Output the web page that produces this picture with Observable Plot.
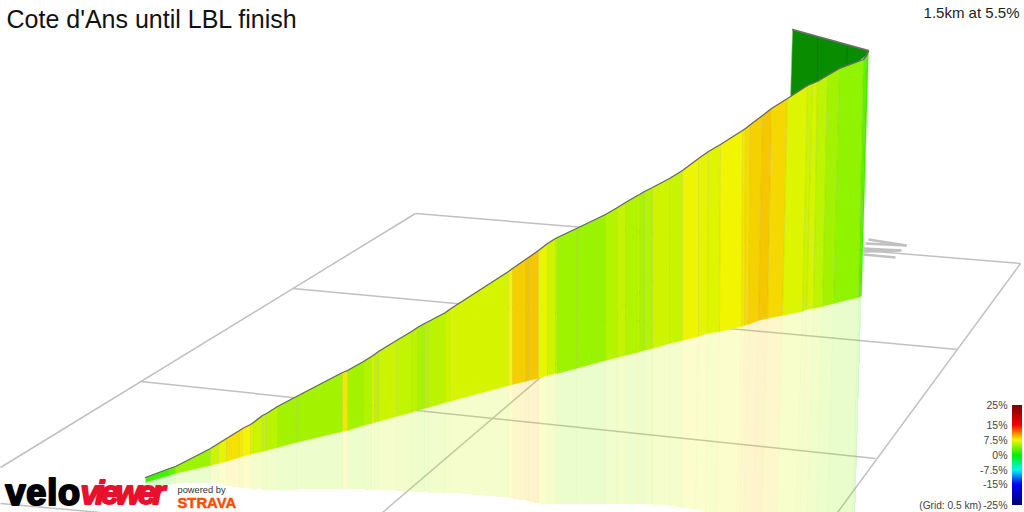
<!DOCTYPE html>
<html><head><meta charset="utf-8">
<script src="https://cdn.jsdelivr.net/npm/d3@7"></script>
<script src="https://cdn.jsdelivr.net/npm/@observablehq/plot@0.6"></script>
<style>
html,body{margin:0;padding:0;background:#fff;overflow:hidden}
.velo text{letter-spacing:.8px}
.viewer text{letter-spacing:-3.6px;font-style:italic}
</style></head><body><div id="chart"></div>
<script>
const wallTopX = [145,169,175,210,218,226,239,242,250,253,262,266,277,296,342,347,363,371,374,378,396,411,417,424,428,445,449,508,512,525,528,538,547,555,557,576,605,617,625,637,639,644,652,669,682,698,708,720,742,745,750,762,771,787,807,812,817,827,839,863,866,868];
const wallTopY = [477,468,466,448,443,438,430,428,424,422,415,413,406,396,372,370,361,356,354,351,340,331,327,323,321,312,309,271,268,259,257,250,243,238,237,228,214,207,202,195,194,191,187,178,170,158,151,144,130,128,124,115,108,98,85,83,81,75,68,59,55,51];
const wallBaseX = [145,169,175,210,218,226,239,242,250,253,262,266,277,296,342,347,363,371,374,378,396,411,417,424,428,445,449,508,512,525,528,538,547,555,557,576,605,617,625,637,639,644,652,669,682,698,707,719,741,744,748,758,767,782,802,806,813,822,833,858,860,861];
const wallBaseY = [482,475,473,465,463,461,457,456,454,453,451,450,447,442,431,430,425,423,422,421,416,412,410,408,407,402,401,385,384,381,380,378,375,373,373,368,360,357,355,352,351,350,348,343,340,336,333,331,326,325,324,320,318,315,311,309,308,306,303,297,296,295];
const floorX = [145,169,175,210,218,226,239,242,250,253,262,266,277,296,342,347,363,371,374,378,396,411,417,424,428,445,449,508,512,525,528,538,547,555,557,576,605,617,625,637,639,644,652,669,681,695,705,716,736,739,743,752,761,776,795,799,806,815,826,851,853,854];
const floorY = [486,484,483,482,483,485,487,487,488,488,489,489,489,489,488,488,489,489,489,489,490,491,491,491,492,492,492,497,498,500,501,503,503,503,503,503,503,503,503,503,503,503,504,505,507,509,511,513,516,517,518,520,522,525,528,529,530,531,533,537,538,538];
const grades = [2,3,4.8,6.2,7,8.1,7.8,7.5,6.5,6.2,5.8,5.7,5,5,8,5,5.4,6.5,5.7,6.2,5.9,5.7,5.2,5.5,5.7,6.3,6.5,7.4,8.7,9.1,8.9,7.1,6.3,5.5,4.8,4.7,5.5,6,5.4,5.8,5.2,5.5,6.3,6.1,7.3,7,6.8,7.4,8,8.3,8.6,8.9,8.4,6.8,6.2,6.5,5.8,5,4.4,3,2];

const backX = [790,792,868,866,857,840,817,790];
const backY = [96,29,50,55,62,68,81,96];
const backSeamTopX = [817,847];
const backSeamTopY = [37,45];
const backSeamBaseX = [817,846];
const backSeamBaseY = [81,64];

const gridX1 = [415,1020,415,292,140,0,700];
const gridY1 = [213,263,213,288,381,503,240];
const gridX2 = [1020,837,0,957,875,100,382];
const gridY2 = [263,512,467,349,458,512,512];
const blipX1 = [868,865,863,863,863];
const blipY1 = [239,243,248,251,254];
const blipX2 = [906,906,901,900,895];
const blipY2 = [245,245,250,250,257];

const scaleGrades = [-25,-15,-7.5,0,7.5,15,25];
const scaleColors = ["#00007a","#0000f5","#00f5f5","#00f000","#f5f500","#f50000","#7a0000"];
const legendLabels = ["25%","15%","7.5%","0%","-7.5%","-15%","-25%"];
const legendValues = [25,15,7.5,0,-7.5,-15,-25];
const legendY = [405,425,440,455,470,484,505];

const titleText = "Cote d'Ans until LBL finish";
const summaryText = "1.5km at 5.5%";
const gridText = "(Grid: 0.5 km)";

const wallPolys = grades.flatMap((g,i)=>[
  {s:i,g,x:wallTopX[i],y:wallTopY[i]},{s:i,g,x:wallTopX[i+1],y:wallTopY[i+1]},
  {s:i,g,x:wallBaseX[i+1],y:wallBaseY[i+1]},{s:i,g,x:wallBaseX[i],y:wallBaseY[i]}]);
const floorPolys = grades.flatMap((g,i)=>[
  {s:i,g,x:wallBaseX[i],y:wallBaseY[i]},{s:i,g,x:wallBaseX[i+1],y:wallBaseY[i+1]},
  {s:i,g,x:floorX[i+1],y:floorY[i+1]},{s:i,g,x:floorX[i],y:floorY[i]}]);
const seams = wallTopX.map((x,i)=>({x,i})).slice(1,-1);
const grid = gridX1.map((x,i)=>({x1:x,y1:gridY1[i],x2:gridX2[i],y2:gridY2[i]}));
const blips = blipX1.map((x,i)=>({x1:x,y1:blipY1[i],x2:blipX2[i],y2:blipY2[i]}));
const back = backX.map((x,i)=>({x,y:backY[i]}));
const backSeams = backSeamTopX.map((x,i)=>({x1:x,y1:backSeamTopY[i],x2:backSeamBaseX[i],y2:backSeamBaseY[i]}));
const backTop = [{x:backX[1],y:backY[1]},{x:backX[2],y:backY[2]}];
const topLine = wallTopX.map((x,i)=>({x,y:wallTopY[i]}));
const yToGrade = d3.scaleLinear(legendY,legendValues);
const ribbon = d3.range(405,505).map(y=>({y,g:yToGrade(y+.5)}));
const legend = legendLabels.map((t,i)=>({t,y:legendY[i]}));
const font = "Liberation Sans, Arial, sans-serif";

const chart = Plot.plot({
  width:1024,height:512,margin:0,
  x:{domain:[0,1024],range:[0,1024],axis:null},
  y:{domain:[0,512],range:[0,512],axis:null},
  color:{type:"linear",domain:scaleGrades,range:scaleColors,interpolate:"rgb"},
  marks:[
    Plot.link(grid,{x1:"x1",y1:"y1",x2:"x2",y2:"y2",stroke:"#c0c0c0",strokeWidth:1.5}),
    Plot.link(blips,{x1:"x1",y1:"y1",x2:"x2",y2:"y2",stroke:"#c0c0c0",strokeWidth:2.4}),
    Plot.line(floorPolys,{x:"x",y:"y",z:"s",fill:"g",fillOpacity:.2,stroke:"none",curve:"linear",shapeRendering:"crispEdges"}),
    Plot.line(back,{x:"x",y:"y",fill:"#0a8c00",stroke:"#a8c8a8",strokeWidth:.6,curve:"linear"}),
    Plot.link(backSeams,{x1:"x1",y1:"y1",x2:"x2",y2:"y2",stroke:"#087400",strokeOpacity:.6,strokeWidth:1.2}),
    Plot.line(backTop,{x:"x",y:"y",stroke:"#6e6e6e",strokeWidth:1.4}),
    Plot.line(wallPolys,{x:"x",y:"y",z:"s",fill:"g",stroke:"g",strokeWidth:.3,curve:"linear"}),
    Plot.link(seams,{x1:"x",y1:d=>wallTopY[d.i],x2:d=>wallBaseX[d.i],y2:d=>wallBaseY[d.i],stroke:"#808000",strokeOpacity:.14,strokeWidth:1}),
    Plot.link(seams,{x1:d=>wallBaseX[d.i],y1:d=>wallBaseY[d.i],x2:d=>floorX[d.i],y2:d=>floorY[d.i],stroke:"#808000",strokeOpacity:.025,strokeWidth:1}),
    Plot.line(topLine,{x:"x",y:"y",stroke:"#666",strokeWidth:1.3,curve:"linear"}),
    Plot.rect(ribbon,{x1:()=>1012,x2:()=>1022,y1:"y",y2:d=>d.y+1,fill:"g",inset:0}),
    Plot.text(legend,{x:()=>1007,y:"y",text:"t",textAnchor:"end",fontSize:10.5,fill:"#444",fontFamily:font}),
    Plot.text([gridText],{x:()=>981,y:()=>505,text:d=>d,textAnchor:"end",fontSize:10.2,fill:"#444",fontFamily:font}),
    Plot.text([titleText],{x:()=>6,y:()=>19,text:d=>d,textAnchor:"start",fontSize:25,fill:"#111",fontFamily:font}),
    Plot.text([summaryText],{x:()=>1019,y:()=>13,text:d=>d,textAnchor:"end",fontSize:15,fill:"#222",fontFamily:font}),
    Plot.text(["velo"],{x:()=>5,y:()=>493,text:d=>d,textAnchor:"start",fontSize:36,fontWeight:"bold",fill:"#000",stroke:"#000",strokeWidth:2.2,fontFamily:font,className:"velo"}),
    Plot.text(["viewer"],{x:()=>80,y:()=>493,text:d=>d,textAnchor:"start",fontSize:33,fontWeight:"bold",fill:"#e8112d",stroke:"#e8112d",strokeWidth:1.8,fontFamily:font,className:"viewer"}),
    Plot.text(["powered by"],{x:()=>177,y:()=>490,text:d=>d,textAnchor:"start",fontSize:9.3,fill:"#333",fontFamily:font}),
    Plot.text(["STRAVA"],{x:()=>177,y:()=>503,text:d=>d,textAnchor:"start",fontSize:14.8,fontWeight:"bold",fill:"#fc4c02",stroke:"#fc4c02",strokeWidth:.5,fontFamily:font})
  ]
});
document.getElementById("chart").append(chart);
</script></body></html>
